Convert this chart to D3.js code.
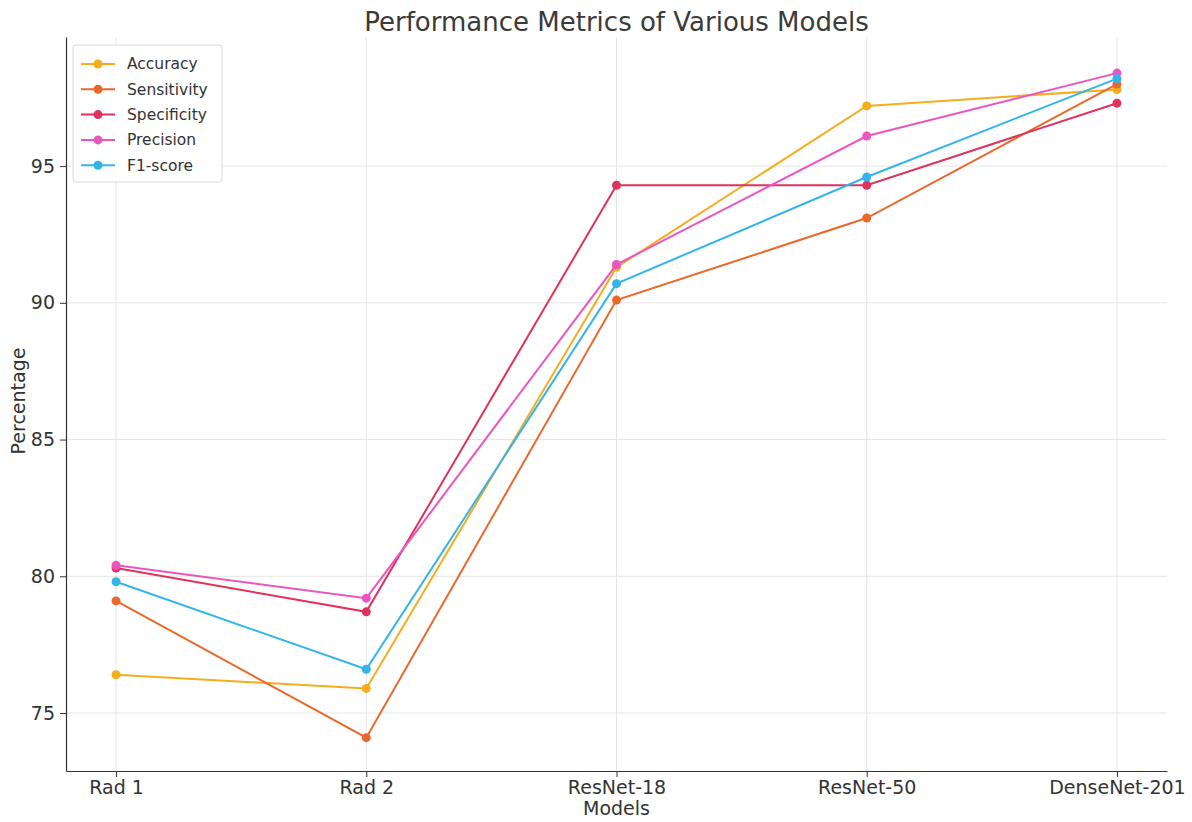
<!DOCTYPE html>
<html>
<head>
<meta charset="utf-8">
<script src="https://cdn.jsdelivr.net/npm/d3@7"></script>
<style>
  body { margin: 0; background: #fff; }
  text { font-family: "DejaVu Sans", sans-serif; fill: #333; }
</style>
</head>
<body>
<div id="chart-area"></div>
<script>
// data
var models = ["Rad 1", "Rad 2", "ResNet-18", "ResNet-50", "DenseNet-201"];
var accuracy    = [76.4, 75.9, 91.3, 97.2, 97.8];
var sensitivity = [79.1, 74.1, 90.1, 93.1, 98.0];
var specificity = [80.3, 78.7, 94.3, 94.3, 97.3];
var precision   = [80.4, 79.2, 91.4, 96.1, 98.4];
var f1score     = [79.8, 76.6, 90.7, 94.6, 98.2];
var yTicks = [75, 80, 85, 90, 95];

var series = [
  { name: "Accuracy", values: accuracy, color: "#f4ad1c" },
  { name: "Sensitivity", values: sensitivity, color: "#e9692c" },
  { name: "Specificity", values: specificity, color: "#e0325d" },
  { name: "Precision", values: precision, color: "#ec55c0" },
  { name: "F1-score", values: f1score, color: "#33b5ea" }
];

var outerWidth = 1192;
var outerHeight = 822;
var margin = { left: 66, right: 25, top: 37, bottom: 51 };
var width = outerWidth - margin.left - margin.right;
var height = outerHeight - margin.top - margin.bottom;

var svg = d3.select("#chart-area")
  .append("svg")
  .attr("width", outerWidth)
  .attr("height", outerHeight);

var g = svg.append("g")
  .attr("transform", "translate(" + margin.left + "," + margin.top + ")");

// scales (matplotlib style 5% margins)
var x = d3.scalePoint()
  .domain(models)
  .range([0, width])
  .padding(0.2);

var y = d3.scaleLinear()
  .domain([72.88, 99.72])
  .range([height, 0]);

// grid
g.append("g")
  .selectAll("line")
  .data(yTicks)
  .enter()
  .append("line")
  .attr("x1", 0)
  .attr("x2", width)
  .attr("y1", function(d) { return y(d); })
  .attr("y2", function(d) { return y(d); })
  .attr("stroke", "#e6e6e6")
  .attr("stroke-width", 1);

g.append("g")
  .selectAll("line")
  .data(models)
  .enter()
  .append("line")
  .attr("x1", function(d) { return x(d); })
  .attr("x2", function(d) { return x(d); })
  .attr("y1", 0)
  .attr("y2", height)
  .attr("stroke", "#e6e6e6")
  .attr("stroke-width", 1);

// lines
var line = d3.line()
  .x(function(d, i) { return x(models[i]); })
  .y(function(d) { return y(d); });

series.forEach(function(s) {
  g.append("path")
    .datum(s.values)
    .attr("fill", "none")
    .attr("stroke", s.color)
    .attr("stroke-width", 2)
    .attr("d", line);

  g.selectAll(null)
    .data(s.values)
    .enter()
    .append("circle")
    .attr("cx", function(d, i) { return x(models[i]); })
    .attr("cy", function(d) { return y(d); })
    .attr("r", 4.5)
    .attr("fill", s.color);
});

// axes
var xAxis = d3.axisBottom(x).tickSize(6).tickSizeOuter(0).tickPadding(4);
var gx = g.append("g")
  .attr("transform", "translate(0," + height + ")")
  .call(xAxis);
gx.selectAll("text").attr("font-size", "19px").attr("fill", "#333");

var yAxis = d3.axisLeft(y).tickValues(yTicks).tickSize(6).tickSizeOuter(0).tickPadding(5);
var gy = g.append("g").call(yAxis);
gy.selectAll("text").attr("font-size", "19px").attr("fill", "#333");

[gx, gy].forEach(function(a) {
  a.select(".domain").attr("stroke", "#333").attr("stroke-width", 1.2);
  a.selectAll(".tick line").attr("stroke", "#333");
  a.selectAll("text").style("font-family", "DejaVu Sans");
});

// title
svg.append("text")
  .attr("x", margin.left + width / 2)
  .attr("y", 31)
  .attr("text-anchor", "middle")
  .attr("font-size", "26px")
  .style("fill", "#3a3a3a")
  .text("Performance Metrics of Various Models");

// axis labels
svg.append("text")
  .attr("x", margin.left + width / 2)
  .attr("y", 815)
  .attr("text-anchor", "middle")
  .attr("font-size", "19px")
  .text("Models");

svg.append("text")
  .attr("transform", "rotate(-90)")
  .attr("x", -(margin.top + height / 2) + 3)
  .attr("y", 25)
  .attr("text-anchor", "middle")
  .attr("font-size", "19px")
  .text("Percentage");

// legend
var legend = g.append("g")
  .attr("transform", "translate(7,8)");

legend.append("rect")
  .attr("width", 149)
  .attr("height", 137)
  .attr("rx", 3)
  .attr("fill", "#fff")
  .attr("fill-opacity", 0.85)
  .attr("stroke", "#d9d9d9");

var items = legend.selectAll(".item")
  .data(series)
  .enter()
  .append("g")
  .attr("transform", function(d, i) { return "translate(8," + (19 + i * 25.3) + ")"; });

items.append("line")
  .attr("x1", 0)
  .attr("x2", 34)
  .attr("stroke", function(d) { return d.color; })
  .attr("stroke-width", 2);

items.append("circle")
  .attr("cx", 17)
  .attr("r", 4.5)
  .attr("fill", function(d) { return d.color; });

items.append("text")
  .attr("x", 46)
  .attr("dy", "0.35em")
  .attr("font-size", "15.5px")
  .text(function(d) { return d.name; });
</script>
</body>
</html>
